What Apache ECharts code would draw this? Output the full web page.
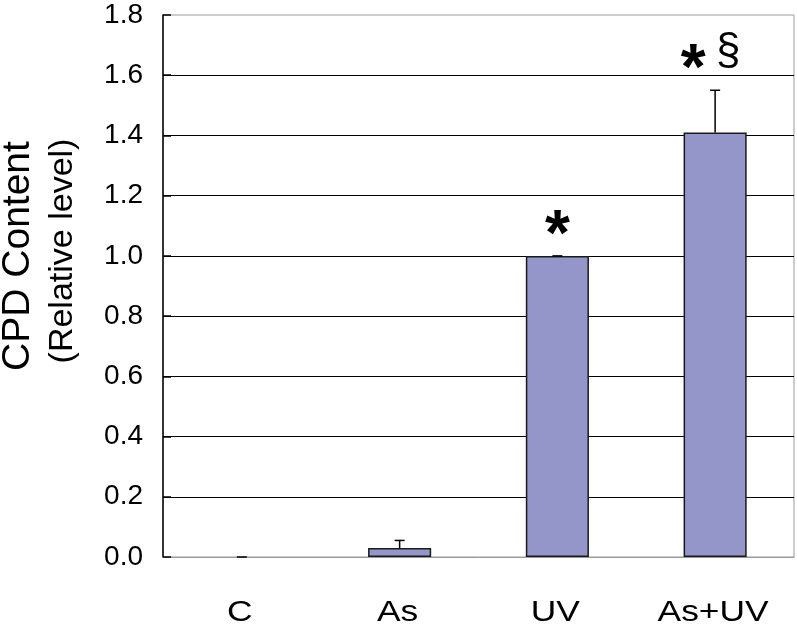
<!DOCTYPE html>
<html>
<head>
<meta charset="utf-8">
<script src="https://cdn.jsdelivr.net/npm/echarts@6/dist/echarts.min.js"></script>
<style>html,body{margin:0;padding:0;background:#fff;}#c{width:797px;height:634px;}</style>
</head>
<body>
<div id="c"></div>
<script>
const categories = ['C', 'As', 'UV', 'As+UV'];
const means = [0, 0.03, 1.0, 1.41];
const errors = [0, 0.025, 0, 0.14];
const starMarks = ['', '', '*', '*'];
const sectionMarks = ['', '', '', '§'];
const yMin = 0, yMax = 1.8, yStep = 0.2;

const FONT = 'Liberation Sans, Arial, sans-serif';
const chart = echarts.init(document.getElementById('c'));
const barData = means.map(v => v === 0 ? { value: v, itemStyle: { borderWidth: 0 } } : v);
const errData = categories.map((c, i) => [i, means[i], errors[i]]);
const labelData = categories.map((c, i) => [i, 0]);

chart.setOption({
  animation: false,
  backgroundColor: '#fff',
  grid: { left: 163, right: 3, top: 15, bottom: 77, show: true, borderColor: '#9a9a9a', borderWidth: 1 },
  xAxis: {
    type: 'category', data: categories,
    axisLine: { lineStyle: { color: '#9a9a9a', width: 1 } },
    axisTick: { show: false },
    axisLabel: { show: false }
  },
  yAxis: {
    type: 'value', min: yMin, max: yMax, interval: yStep,
    axisLine: { show: true, lineStyle: { color: '#000', width: 1.5 } },
    axisTick: { show: true, inside: true, length: 8, lineStyle: { color: '#000', width: 1.5 } },
    axisLabel: { color: '#000', fontSize: 28, fontFamily: FONT, margin: 20,
      formatter: v => v.toFixed(1) },
    splitLine: { show: true, showMinLine: false, showMaxLine: false, lineStyle: { color: '#000', width: 1.2 } }
  },
  graphic: [
    { type: 'text', x: 18, y: 256, rotation: Math.PI / 2,
      style: { text: 'CPD Content', fontSize: 39, fontFamily: FONT, fill: '#000', textAlign: 'center', textVerticalAlign: 'middle' } },
    { type: 'text', x: 63, y: 251, rotation: Math.PI / 2,
      style: { text: '(Relative level)', fontSize: 34, fontFamily: FONT, fill: '#000', textAlign: 'center', textVerticalAlign: 'middle' } }
  ],
  series: [
    {
      type: 'bar', data: barData, barWidth: '40%',
      itemStyle: { color: '#9496c9', borderColor: '#1a1a1a', borderWidth: 1.5 },
      z: 2
    },
    {
      type: 'custom', data: errData, z: 3,
      renderItem: (params, api) => {
        const i = api.value(0), m = api.value(1), e = api.value(2);
        const base = api.coord([i, m]);
        const top = api.coord([i, m + e]);
        const half = 5;
        return { type: 'group', children: [
          { type: 'line', shape: { x1: base[0], y1: base[1], x2: top[0], y2: top[1] }, style: { stroke: '#000', lineWidth: 1.5 } },
          { type: 'line', shape: { x1: top[0] - half, y1: top[1], x2: top[0] + half, y2: top[1] }, style: { stroke: '#000', lineWidth: 1.5 } }
        ] };
      }
    },
    {
      type: 'custom', data: errData, z: 4,
      renderItem: (params, api) => {
        const i = api.value(0), m = api.value(1), e = api.value(2);
        const p = api.coord([i, m + e]);
        const children = [];
        const hasSec = !!sectionMarks[i];
        if (starMarks[i]) {
          children.push({ type: 'text', x: p[0] + (hasSec ? -22 : 0), y: p[1] + 13,
            style: { text: starMarks[i], fontSize: 64, fontWeight: 'bold', fontFamily: FONT, fill: '#000',
              textAlign: 'center', textVerticalAlign: 'bottom' } });
        }
        if (hasSec) {
          children.push({ type: 'text', x: p[0] + 13, y: p[1] - 38,
            style: { text: sectionMarks[i], fontSize: 44, fontFamily: FONT, fill: '#000',
              textAlign: 'center', textVerticalAlign: 'middle' } });
        }
        return { type: 'group', children };
      }
    },
    {
      type: 'custom', data: labelData, z: 5, silent: true,
      renderItem: (params, api) => {
        const i = api.value(0);
        const p = api.coord([i, 0]);
        return { type: 'text', x: p[0] - 2, y: p[1] + 56, scaleX: 1.22,
          style: { text: categories[i], fontSize: 29, fontFamily: FONT, fill: '#000',
            textAlign: 'center', textVerticalAlign: 'middle' } };
      }
    }
  ]
});
</script>
</body>
</html>
